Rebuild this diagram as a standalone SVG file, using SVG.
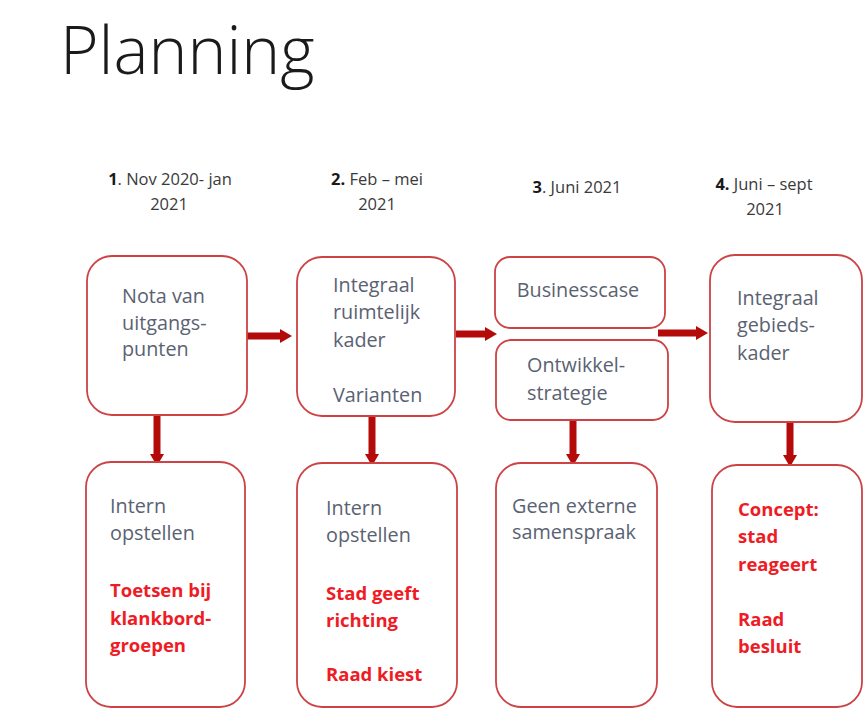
<svg xmlns="http://www.w3.org/2000/svg" width="863" height="713" viewBox="0 0 863 713">
<style>
.box{fill:#fff;stroke:#cc4245;stroke-width:1.8}
.hdr{font-family:"Open Sans","Liberation Sans",sans-serif;font-size:16.5px;fill:#3a3a3a}
.hdr .b{font-weight:bold;fill:#1a1a1a}
.t{font-family:"Open Sans","Liberation Sans",sans-serif;font-size:19.8px;fill:#5a6272}
.r{font-family:"Open Sans","Liberation Sans",sans-serif;font-size:18.5px;font-weight:bold;fill:#ee1c25}
.arr{stroke:#b40a0a;stroke-width:7;fill:none;marker-end:url(#ah)}
</style>
<defs>
<marker id="ah" viewBox="0 0 12 14" markerWidth="12" markerHeight="14" refX="1" refY="7" orient="auto" markerUnits="userSpaceOnUse">
<path d="M0,0 L12,7 L0,14 z" fill="#b40a0a"/>
</marker>
</defs>
<rect width="863" height="713" fill="#fff"/>
<text x="60" y="74" font-family="Open Sans, Liberation Sans, sans-serif" font-size="66" font-weight="300" fill="#1a1a1a">Planning</text>

<g id="headers">
<text class="hdr" text-anchor="middle" x="170" y="185"><tspan class="b">1</tspan>. Nov 2020- jan</text>
<text class="hdr" text-anchor="middle" x="169" y="210">2021</text>
<text class="hdr" text-anchor="middle" x="377" y="185"><tspan class="b">2.</tspan> Feb – mei</text>
<text class="hdr" text-anchor="middle" x="377" y="210">2021</text>
<text class="hdr" text-anchor="middle" x="577" y="193"><tspan class="b">3</tspan>. Juni 2021</text>
<text class="hdr" text-anchor="middle" x="764" y="190"><tspan class="b">4.</tspan> Juni – sept</text>
<text class="hdr" text-anchor="middle" x="765" y="215">2021</text>
</g>

<g id="connectors">
<line class="arr" x1="247" y1="336" x2="281" y2="336"/>
<line class="arr" x1="456" y1="334" x2="486" y2="334"/>
<line class="arr" x1="658" y1="333" x2="697" y2="333"/>
<line class="arr" x1="157" y1="415" x2="157" y2="455"/>
<line class="arr" x1="372" y1="416" x2="372" y2="455"/>
<line class="arr" x1="573" y1="420" x2="573" y2="455"/>
<line class="arr" x1="790" y1="422" x2="790" y2="456"/>
</g>

<g id="n1">
<rect class="box" x="87" y="256" width="160" height="159" rx="25"/>
<text class="t" x="122" y="303">Nota van</text>
<text class="t" x="122" y="330">uitgangs-</text>
<text class="t" x="122" y="356">punten</text>
</g>
<g id="n2">
<rect class="box" x="297" y="257" width="158" height="159" rx="25"/>
<text class="t" x="333" y="292">Integraal</text>
<text class="t" x="333" y="319">ruimtelijk</text>
<text class="t" x="333" y="347">kader</text>
<text class="t" x="333" y="402">Varianten</text>
</g>
<g id="n3a">
<rect class="box" x="495" y="257" width="170" height="71" rx="15"/>
<text class="t" x="578" y="297" text-anchor="middle">Businesscase</text>
</g>
<g id="n3b">
<rect class="box" x="496" y="340" width="172" height="80" rx="15"/>
<text class="t" x="527" y="372">Ontwikkel-</text>
<text class="t" x="527" y="400">strategie</text>
</g>
<g id="n4">
<rect class="box" x="710" y="255" width="152" height="167" rx="25"/>
<text class="t" x="737" y="305">Integraal</text>
<text class="t" x="737" y="332">gebieds-</text>
<text class="t" x="737" y="360">kader</text>
</g>

<g id="n1b">
<rect class="box" x="86" y="462" width="159" height="245" rx="25"/>
<text class="t" x="110" y="513">Intern</text>
<text class="t" x="110" y="540">opstellen</text>
<text class="r" x="110" y="597">Toetsen bij</text>
<text class="r" x="110" y="625">klankbord-</text>
<text class="r" x="110" y="652">groepen</text>
</g>
<g id="n2b">
<rect class="box" x="297" y="463" width="160" height="244" rx="25"/>
<text class="t" x="326" y="515">Intern</text>
<text class="t" x="326" y="542">opstellen</text>
<text class="r" x="326" y="600">Stad geeft</text>
<text class="r" x="326" y="627">richting</text>
<text class="r" x="326" y="681">Raad kiest</text>
</g>
<g id="n3c">
<rect class="box" x="496" y="463" width="161" height="244" rx="25"/>
<text class="t" x="512" y="513">Geen externe</text>
<text class="t" x="512" y="539">samenspraak</text>
</g>
<g id="n4b">
<rect class="box" x="712" y="465" width="150" height="242" rx="25"/>
<text class="r" x="738" y="516">Concept:</text>
<text class="r" x="738" y="543">stad</text>
<text class="r" x="738" y="571">reageert</text>
<text class="r" x="738" y="626">Raad</text>
<text class="r" x="738" y="653">besluit</text>
</g>
</svg>
